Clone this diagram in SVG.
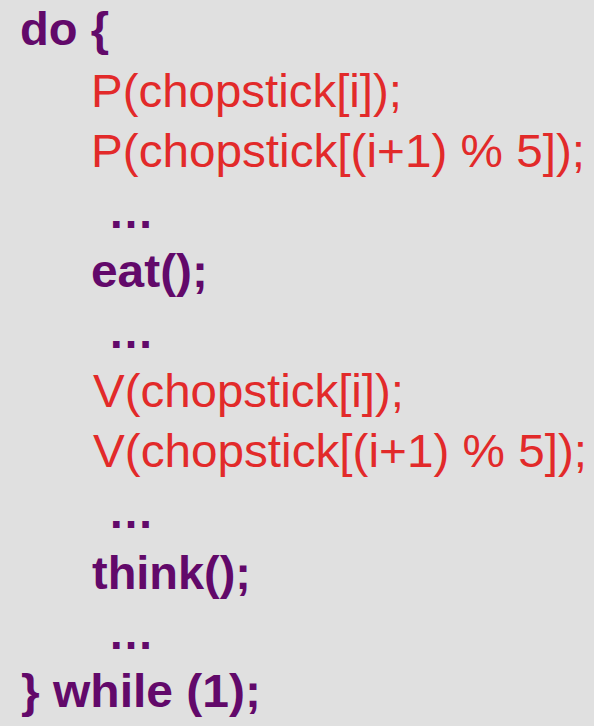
<svg xmlns="http://www.w3.org/2000/svg" width="594" height="726" viewBox="0 0 594 726">
<style>
.k{font-family:"Liberation Sans",Arial,sans-serif;font-weight:bold;font-size:46px;fill:#62096a}
.r{font-family:"Liberation Sans",Arial,sans-serif;font-size:46px;fill:#e22a2a}
.d{font-family:"Liberation Sans",Arial,sans-serif;font-weight:bold;font-size:46px;fill:#62096a}
</style>
<rect x="0" y="0" width="594" height="726" fill="#e0e0e0"/>
<text class="k" x="20" y="45" textLength="89" lengthAdjust="spacingAndGlyphs">do {</text>
<text class="r" x="91" y="107" textLength="311" lengthAdjust="spacingAndGlyphs">P(chopstick[i]);</text>
<text class="r" x="91" y="167" textLength="494" lengthAdjust="spacingAndGlyphs">P(chopstick[(i+1) % 5]);</text>
<text class="d" x="108" y="228">…</text>
<text class="k" x="91" y="287" textLength="117" lengthAdjust="spacingAndGlyphs">eat();</text>
<text class="d" x="108" y="348">…</text>
<text class="r" x="93" y="407" textLength="311" lengthAdjust="spacingAndGlyphs">V(chopstick[i]);</text>
<text class="r" x="93" y="467" textLength="494" lengthAdjust="spacingAndGlyphs">V(chopstick[(i+1) % 5]);</text>
<text class="d" x="108" y="528">…</text>
<text class="k" x="92" y="589" textLength="159" lengthAdjust="spacingAndGlyphs">think();</text>
<text class="d" x="108" y="649">…</text>
<text class="k" x="21" y="707" textLength="240" lengthAdjust="spacingAndGlyphs">} while (1);</text>
</svg>
